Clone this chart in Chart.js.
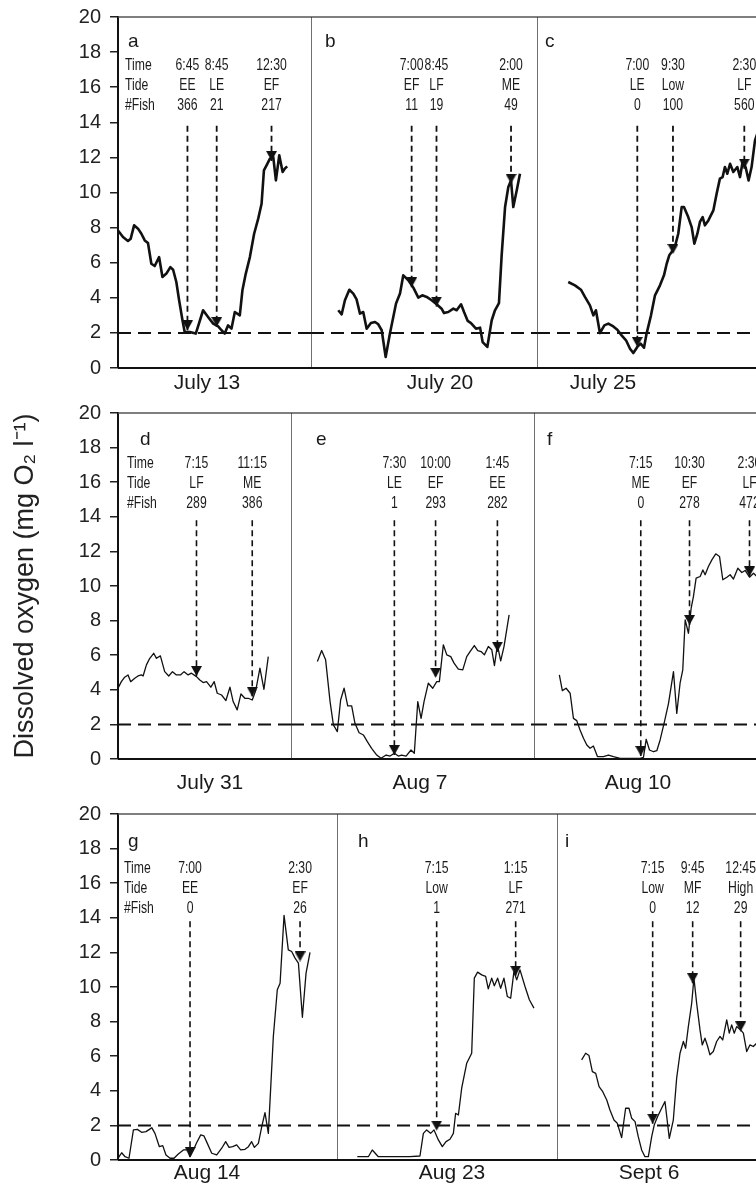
<!DOCTYPE html>
<html>
<head>
<meta charset="utf-8">
<script src="https://cdn.jsdelivr.net/npm/chart.js@4.4.1/dist/chart.umd.min.js"></script>
<style>
  html, body { margin: 0; padding: 0; background: #fff; overflow: hidden; }
  body { width: 756px; height: 1184px; position: relative; }
  .panel { position: absolute; }
</style>
</head>
<body>
<div id="figure"></div>
<script>
// dissolved oxygen traces, hour of day vs mg O2/l, one pair per sampling day
const hrA = [2.0,2.34,2.68,2.87,3.10,3.37,3.60,3.83,4.05,4.28,4.51,4.81,5.04,5.31,5.58,5.77,5.99,6.18,6.41,6.56,6.91,7.32,7.82,8.16,8.51,8.85,9.08,9.30,9.53,9.76,9.99,10.33,10.51,10.74,11.02,11.31,11.59,11.82,11.98,12.16,12.39,12.62,12.80,13.03,13.26,13.41,13.57]
const doA = [7.84,7.46,7.24,7.37,8.13,7.94,7.65,7.27,7.12,5.94,5.81,6.32,5.19,5.38,5.75,5.60,4.90,3.86,2.72,2.05,2.05,1.96,3.29,2.91,2.53,2.37,2.15,1.96,2.43,2.24,3.19,3.00,4.43,5.38,6.32,7.65,8.51,9.36,11.26,11.55,11.93,12.02,10.69,12.12,11.17,11.36,11.49]
const hrB = [1.83,2.07,2.30,2.61,2.89,3.12,3.36,3.59,3.83,4.13,4.42,4.65,4.89,5.17,5.47,5.90,6.18,6.41,6.77,7.12,7.47,7.75,8.06,8.41,8.76,9.11,9.28,9.58,9.94,10.17,10.48,10.69,10.95,11.18,11.53,11.82,12.0,12.33,12.64,12.87,13.15,13.34,13.58,13.81,14.0,14.16,14.4,14.63]
const doB = [3.29,3.06,3.86,4.46,4.24,3.91,3.10,3.19,2.24,2.56,2.62,2.49,2.15,0.63,1.96,3.67,4.24,5.28,5.0,4.58,4.01,4.14,4.05,3.86,3.63,3.38,3.13,3.19,3.38,3.29,3.63,3.19,2.68,2.56,2.24,2.30,1.48,1.20,2.72,3.29,3.70,6.42,9.17,10.31,10.69,9.17,10.12,11.07]
const hrC = [2.16,2.63,3.05,3.33,3.68,3.92,4.10,4.38,4.69,4.97,5.32,5.60,5.90,6.21,6.49,6.72,7.0,7.23,7.47,7.65,7.96,8.24,8.59,8.87,9.06,9.24,9.41,9.66,9.87,10.11,10.27,10.57,10.81,11.0,11.21,11.39,11.58,11.74,11.98,12.33,12.56,12.79,12.98,13.14,13.31,13.50,13.73,14.01,14.20,14.38,14.59,14.80,15.01,15.25,15.41]
const doC = [4.9,4.71,4.46,4.05,3.57,3.0,3.29,1.99,2.43,2.53,2.37,2.18,1.86,1.58,1.10,0.85,1.20,1.39,1.16,1.96,3.0,4.14,4.71,5.28,5.94,6.42,6.61,6.99,7.65,9.17,9.17,8.6,8.03,7.08,7.65,8.32,8.6,8.13,8.41,8.98,9.93,10.79,10.88,11.45,11.07,11.64,11.17,11.45,10.88,11.74,11.45,10.69,11.45,12.97,13.35]
const hrD = [1.62,1.86,2.10,2.34,2.53,2.82,3.06,3.30,3.42,3.66,3.90,4.18,4.38,4.66,4.97,5.26,5.53,5.81,6.10,6.36,6.65,6.89,7.25,7.49,7.73,7.97,8.28,8.52,8.74,9.05,9.36,9.65,9.88,10.17,10.44,10.72,10.96,11.25,11.51,11.80,12.09,12.40]
const doD = [4.09,4.47,4.73,4.86,4.47,4.67,4.80,4.86,4.80,5.44,5.82,6.11,5.82,5.96,5.05,4.80,5.05,4.86,4.86,5.05,4.86,4.96,4.76,4.57,4.42,4.47,4.15,4.47,3.80,3.70,3.38,4.15,3.32,2.84,3.76,3.51,3.51,3.41,3.99,5.25,4.03,5.92]
const hrE = [2.83,3.09,3.33,3.60,3.80,4.04,4.24,4.45,4.67,4.91,5.11,5.36,5.62,5.86,6.12,6.43,6.69,7.0,7.24,7.5,7.74,7.94,8.21,8.51,8.71,8.92,9.12,9.30,9.56,9.83,10.07,10.23,10.47,10.68,10.92,11.12,11.38,11.65,11.89,12.09,12.35,12.56,12.76,12.96,13.20,13.41,13.57,13.75,13.95,14.15,14.46]
const doE = [5.63,6.27,5.73,3.32,1.97,1.58,3.41,4.09,3.07,3.07,2.06,1.52,1.39,1.0,0.62,0.23,0.04,0.23,0.17,0.33,0.17,0.23,0.17,0.52,0.33,3.32,2.35,3.32,4.38,4.09,4.47,4.47,6.60,6.02,5.92,5.54,5.19,5.15,5.92,6.21,6.56,6.27,6.21,6.02,6.50,6.31,5.40,6.60,5.67,6.50,8.33]
const hrF = [1.82,2.02,2.27,2.54,2.76,2.98,3.20,3.43,3.65,3.87,4.09,4.36,4.76,5.09,5.43,5.87,6.54,7.21,7.43,7.61,7.83,8.10,8.32,8.54,8.83,9.10,9.43,9.65,9.87,10.05,10.21,10.43,10.61,10.76,10.94,11.21,11.39,11.54,11.76,11.99,12.25,12.50,12.72,12.99,13.21,13.43,13.72,13.99,14.21,14.50,14.77,14.99]
const doF = [4.86,3.95,4.09,3.80,2.35,2.22,1.68,1.20,0.81,0.62,0.75,0.14,0.14,0.23,0.14,0.04,0.04,0.04,0.10,1.14,0.52,0.42,0.48,1.10,2.16,3.22,5.05,2.64,4.38,5.15,8.04,7.27,8.72,9.39,10.45,10.55,10.93,10.65,11.13,11.51,11.86,11.71,10.36,10.51,10.65,10.40,11.03,10.78,10.90,10.51,10.74,10.55]
const hrG = [2.09,2.34,2.57,2.84,3.14,3.41,3.70,4.0,4.23,4.39,4.61,4.91,5.14,5.36,5.64,5.91,6.20,6.55,6.82,7.0,7.23,7.45,7.73,7.95,8.18,8.48,8.82,9.16,9.43,9.66,9.91,10.18,10.45,10.75,10.98,11.20,11.39,11.66,11.89,12.11,12.34,12.68,12.95,13.14,13.41,13.70,13.93,14.16,14.39,14.66,14.91,15.18]
const doG = [0.10,0.42,0.19,0.10,1.74,1.77,1.60,1.64,1.77,1.87,1.54,0.77,0.83,0.29,0.10,0.10,0.35,0.58,0.58,0.19,0.58,1.0,1.45,1.39,0.96,0.39,0.29,0.68,1.06,0.73,0.77,0.87,0.58,0.62,0.77,1.06,0.73,0.96,1.93,2.74,1.54,7.14,9.84,10.22,14.14,12.15,12.05,11.67,11.38,8.25,10.80,12.0]
const hrH = [1.22,2.06,2.36,2.82,3.96,5.22,5.98,6.24,6.49,6.79,7.05,7.38,7.68,7.96,8.26,8.52,8.69,8.90,9.15,9.53,9.91,10.11,10.36,10.67,10.97,11.17,11.43,11.63,11.88,12.11,12.36,12.62,12.87,13.12,13.33,13.58,13.96,14.29,14.64]
const doH = [0.19,0.19,0.58,0.19,0.19,0.19,0.23,1.54,1.74,1.54,1.74,1.16,0.77,1.06,1.20,1.54,2.70,2.60,4.15,5.59,6.17,10.51,10.86,10.70,10.61,9.89,10.51,10.07,10.51,9.93,10.51,9.45,9.35,10.90,10.41,10.99,10.03,9.26,8.78]
const hrI = [2.81,3.06,3.27,3.48,3.69,3.90,4.13,4.38,4.58,4.83,5.04,5.31,5.56,5.77,5.94,6.15,6.35,6.56,6.77,6.98,7.19,7.35,7.56,7.81,8.02,8.29,8.54,8.75,8.96,9.17,9.31,9.48,9.69,9.83,10.0,10.21,10.35,10.52,10.69,10.83,11.04,11.25,11.46,11.63,11.88,12.04,12.19,12.35,12.50,12.75,12.92,13.13,13.33,13.54,13.75]
const doI = [5.79,6.17,6.04,5.11,5.01,4.24,3.95,3.47,2.89,2.31,2.12,1.29,2.99,2.99,2.41,2.22,1.35,0.58,0.19,0.19,1.35,2.03,2.51,2.99,3.38,1.25,2.31,4.73,6.17,6.85,6.46,7.71,9.06,10.51,9.06,7.52,6.65,7.04,6.56,6.08,6.27,6.85,7.14,6.94,8.10,7.33,7.81,7.33,7.71,7.52,7.33,6.27,6.65,6.56,6.75]

const panelLetters = ['a', 'b', 'c', 'd', 'e', 'f', 'g', 'h', 'i']
const dateLabels = ['July 13', 'July 20', 'July 25', 'July 31', 'Aug 7', 'Aug 10', 'Aug 14', 'Aug 23', 'Sept 6']

// sampling events marked with arrows
const arrowTimes = [['6:45','8:45','12:30'], ['7:00','8:45','2:00'], ['7:00','9:30','2:30'], ['7:15','11:15'], ['7:30','10:00','1:45'], ['7:15','10:30','2:30'], ['7:00','2:30'], ['7:15','1:15'], ['7:15','9:45','12:45']]
const arrowTides = [['EE','LE','EF'], ['EF','LF','ME'], ['LE','Low','LF'], ['LF','ME'], ['LE','EF','EE'], ['ME','EF','LF'], ['EE','EF'], ['Low','LF'], ['Low','MF','High']]
const arrowFish = [[366,21,217], [11,19,49], [0,100,560], [289,386], [1,293,282], [0,278,472], [0,26], [1,271], [0,12,29]]
const arrowTips = [[2.15,2.34,11.8], [4.6,3.5,10.5], [1.2,6.5,11.36], [4.8,3.6], [0.23,4.7,6.2], [0.17,7.75,10.55], [0.19,11.48], [1.7,10.65], [2.1,10.22,7.43]]

const hypoxia = 2
const yTicks = [0, 2, 4, 6, 8, 10, 12, 14, 16, 18, 20]

// layout
const FONT = '"Liberation Sans", Arial, Helvetica, sans-serif'
const rows = [
    { top: 17, bottom: 368, edges: [118, 311, 537, 760], lineWidth: 2.6, dashWidth: 1.8, letterTop: 25, textTop: 48, headerLeft: 7, dateGap: 15 },
    { top: 413, bottom: 759, edges: [118, 291, 534, 760], lineWidth: 1.3, dashWidth: 1.6, letterTop: 27, textTop: 50, headerLeft: 9, dateGap: 24 },
    { top: 814, bottom: 1160, edges: [118, 337, 557, 760], lineWidth: 1.3, dashWidth: 1.6, letterTop: 28, textTop: 54, headerLeft: 6, dateGap: 13 },
]
const xRanges = [[2.0, 15.2], [-0.09, 15.83], [-0.03, 15.6], [1.62, 14.03], [1.23, 15.97], [0.13, 15.2], [2.09, 17.02], [-0.32, 16.39], [1.27, 13.96]]
const letterOffsets = [10, 14, 8, 22, 25, 13, 10, 21, 8]
const dateOffsets = [89, 129, 66, 92, 129, 104, 89, 115, 92]
const arrowTop = 13.8

const traces = [[hrA, doA], [hrB, doB], [hrC, doC], [hrD, doD], [hrE, doE], [hrF, doF], [hrG, doG], [hrH, doH], [hrI, doI]]

Chart.defaults.font.family = FONT
Chart.defaults.color = '#222'

// "2:30" means 14:30, the morning times start at 6
function toHour(t) {
    const [h, m] = t.split(':').map(Number)
    return (h < 6 ? h + 12 : h) + m / 60
}

// downward triangle whose tip sits at the middle of the image
function makeArrowHead(w, h) {
    const c = document.createElement('canvas')
    c.width = w
    c.height = h * 2
    const g = c.getContext('2d')
    g.fillStyle = '#111'
    g.beginPath()
    g.moveTo(0, 0)
    g.lineTo(w, 0)
    g.lineTo(w / 2, h)
    g.closePath()
    g.fill()
    return c
}
const arrowHead = makeArrowHead(11, 10)

function narrow(ctx, str, x, y, align) {
    ctx.save()
    ctx.translate(x, y)
    ctx.scale(0.74, 1)
    ctx.textAlign = align
    ctx.fillText(str, 0, 0)
    ctx.restore()
}

const panelFrame = {
    id: 'panelFrame',
    afterDatasetsDraw(chart, args, opts) {
        const { ctx, chartArea: a } = chart
        ctx.save()
        ctx.strokeStyle = '#555'
        ctx.lineWidth = 1.3
        ctx.beginPath()
        ctx.moveTo(a.left, a.top)
        ctx.lineTo(a.right, a.top)
        ctx.stroke()
        if (opts.panel % 3 !== 0) {
            ctx.strokeStyle = '#222'
            ctx.beginPath()
            ctx.moveTo(a.left, a.top)
            ctx.lineTo(a.left, a.bottom)
            ctx.stroke()
        }
        ctx.strokeStyle = '#111'
        ctx.lineWidth = 2
        ctx.beginPath()
        ctx.moveTo(a.left, a.bottom)
        ctx.lineTo(a.right, a.bottom)
        ctx.stroke()
        ctx.restore()
    }
}

const panelText = {
    id: 'panelText',
    afterDraw(chart, args, opts) {
        const i = opts.panel
        const row = rows[Math.floor(i / 3)]
        const { ctx, chartArea: a, scales: { x } } = chart
        ctx.save()
        ctx.fillStyle = '#1a1a1a'
        ctx.textBaseline = 'middle'

        ctx.font = '19px ' + FONT
        ctx.textAlign = 'left'
        ctx.fillText(panelLetters[i], a.left + letterOffsets[i], a.top + row.letterTop)

        ctx.font = '21px ' + FONT
        ctx.textAlign = 'center'
        ctx.fillText(dateLabels[i], a.left + dateOffsets[i], a.bottom + row.dateGap)

        ctx.font = '16.5px ' + FONT
        const lines = [0, 20, 40].map(d => a.top + row.textTop + d)
        if (i % 3 === 0) {
            ['Time', 'Tide', '#Fish'].forEach((s, k) => narrow(ctx, s, a.left + row.headerLeft, lines[k], 'left'))
        }
        arrowTimes[i].forEach((t, k) => {
            const px = x.getPixelForValue(toHour(t))
            narrow(ctx, t, px, lines[0], 'center')
            narrow(ctx, arrowTides[i][k], px, lines[1], 'center')
            narrow(ctx, String(arrowFish[i][k]), px, lines[2], 'center')
        })
        ctx.restore()
    }
}

function showPanel(i) {
    const row = rows[Math.floor(i / 3)]
    const col = i % 3
    const first = col === 0
    const left = first ? 0 : row.edges[col]
    const right = row.edges[col + 1]
    const padTop = 25
    const padBottom = 40
    const width = right - left
    const height = row.bottom - row.top + padTop + padBottom

    const box = document.createElement('div')
    box.className = 'panel'
    box.style.left = left + 'px'
    box.style.top = (row.top - padTop) + 'px'
    const canvas = document.createElement('canvas')
    canvas.width = width
    canvas.height = height
    canvas.style.width = width + 'px'
    canvas.style.height = height + 'px'
    box.appendChild(canvas)
    document.getElementById('figure').appendChild(box)

    const [xmin, xmax] = xRanges[i]
    const [hours, values] = traces[i]

    const datasets = [
        {
            data: [{ x: xmin, y: hypoxia }, { x: xmax, y: hypoxia }],
            borderColor: '#111',
            borderWidth: 2,
            borderDash: [13, 7],
            pointRadius: 0,
        },
        {
            data: hours.map((h, k) => ({ x: h, y: values[k] })),
            borderColor: '#111',
            borderWidth: row.lineWidth,
            borderJoinStyle: 'round',
            pointRadius: 0,
            tension: 0,
        },
    ]
    arrowTimes[i].forEach((t, k) => {
        const h = toHour(t)
        datasets.push({
            data: [{ x: h, y: arrowTop }, { x: h, y: arrowTips[i][k] }],
            borderColor: '#111',
            borderWidth: row.dashWidth,
            borderDash: [6, 4],
            pointRadius: [0, 6],
            pointStyle: arrowHead,
        })
    })

    const yAxis = {
        display: first,
        min: 0,
        max: 20,
        afterBuildTicks: scale => { scale.ticks = yTicks.map(v => ({ value: v })) },
        ticks: { font: { size: 20 }, color: '#222', padding: 9 },
        grid: { drawOnChartArea: false, tickLength: 8, color: '#222', lineWidth: 1.5 },
        border: { display: true, color: '#111', width: 2 },
        title: {
            display: i === 3,
            text: 'Dissolved oxygen (mg O\u2082 l\u207B\u00B9)',
            font: { size: 27 },
            color: '#222',
            padding: { top: 9, bottom: 0 },
        },
    }
    if (first) {
        yAxis.afterFit = scale => { scale.width = row.edges[0] }
    }

    new Chart(canvas, {
        type: 'line',
        data: { datasets: datasets },
        options: {
            responsive: false,
            animation: false,
            events: [],
            layout: { autoPadding: false, padding: { top: padTop, bottom: padBottom, left: 0, right: 0 } },
            plugins: {
                legend: { display: false },
                tooltip: { enabled: false },
                panelFrame: { panel: i },
                panelText: { panel: i },
            },
            scales: {
                x: { type: 'linear', display: false, min: xmin, max: xmax },
                y: yAxis,
            },
        },
        plugins: [panelFrame, panelText],
    })
}

for (let i = 0; i < 9; i++) {
    showPanel(i)
}
</script>
</body>
</html>
